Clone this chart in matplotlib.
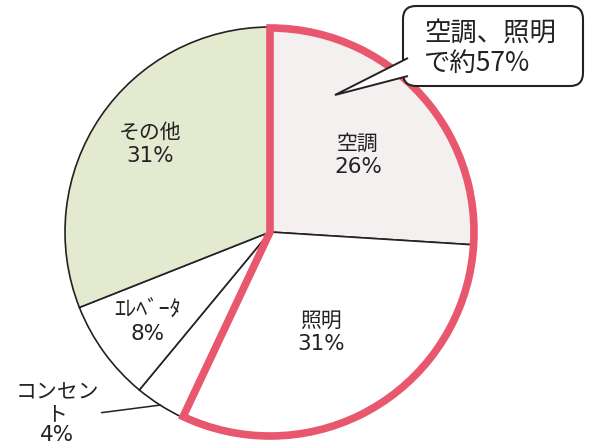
import numpy as np
import matplotlib.pyplot as plt
from matplotlib.patches import Wedge, FancyBboxPatch, Polygon

plt.rcParams['font.family'] = ['Noto Sans CJK JP', 'DejaVu Sans']

# electricity use by purpose (%)
labels = ['空調', '照明', 'コンセン\nト', 'ｴﾚﾍﾞｰﾀ', 'その他']
shares = [26, 31, 4, 8, 31]
colors = ['#f4f0f0', '#ffffff', '#ffffff', '#ffffff', '#e3eacf']
highlight = 2  # first two slices are outlined together
callout_lines = ['空調、照明', 'で約57%']

# label anchor points in pixel space (y measured from top)
label_xy = [(358, 155), (321, 332), (57, 425), (148, 322), (150, 144)]
label_size = [15, 15, 15, 16, 15]

W, H = 592, 448
cx, cy, r = 270, H - 232, 205
ink = '#222222'
num_font = ['DejaVu Sans']

fig = plt.figure(figsize=(W / 100, H / 100), dpi=100)
ax = fig.add_axes([0, 0, 1, 1])

wedges, _ = ax.pie(shares, colors=colors, startangle=90, counterclock=False,
                   center=(cx, cy), radius=r,
                   wedgeprops=dict(edgecolor=ink, linewidth=1.2))

ax.set_xlim(0, W)
ax.set_ylim(0, H)
ax.set_aspect('equal')
ax.axis('off')

# thick red outline around air conditioning + lighting
t2 = 90
t1 = 90 - sum(shares[:highlight]) / sum(shares) * 360
ax.add_patch(Wedge((cx, cy), r - 1, t1, t2, fill=False,
                   edgecolor='#e9576e', linewidth=5.5, joinstyle='miter', zorder=5))

for i, (lab, val) in enumerate(zip(labels, shares)):
    x, y = label_xy[i]
    fs = label_size[i]
    if i == 2:
        # small slice: label outside with a leader line to the rim
        w = wedges[i]
        mid = np.deg2rad((w.theta1 + w.theta2) / 2)
        ax.annotate(lab, xy=(cx + r * np.cos(mid), cy + r * np.sin(mid)),
                    xytext=(x, H - y), ha='center', va='bottom',
                    fontsize=fs, color=ink, linespacing=1.0,
                    arrowprops=dict(arrowstyle='-', color=ink, lw=1.1,
                                    shrinkA=0, shrinkB=0,
                                    relpos=(1.03, 0.28)))
        ax.text(x, H - y, f'{val}%', ha='center', va='top', fontsize=15.5,
                color=ink, family=num_font)
    else:
        ax.text(x, H - y, lab, ha='center', va='bottom', fontsize=fs, color=ink)
        ax.text(x, H - y - 2, f'{val}%', ha='center', va='top', fontsize=15.5,
                color=ink, family=num_font)

# speech bubble
bx0, by0, bx1, by1 = 403, 6, 583, 86
ax.add_patch(FancyBboxPatch((bx0, H - by1), bx1 - bx0, by1 - by0,
                            boxstyle='round,pad=0,rounding_size=13',
                            fc='white', ec=ink, lw=1.5, zorder=10))
ax.add_patch(Polygon([(bx0 + 5, H - 58), (335, H - 95), (bx0 + 5, H - 76)],
                     closed=False, fc='white', ec=ink, lw=1.4,
                     joinstyle='miter', zorder=11))
for k, line in enumerate(callout_lines):
    ax.text(424, H - 33 - 30 * k, line, ha='left', va='center', fontsize=19,
            color=ink, zorder=12)

fig.savefig('out.png', dpi=100, facecolor='white')
